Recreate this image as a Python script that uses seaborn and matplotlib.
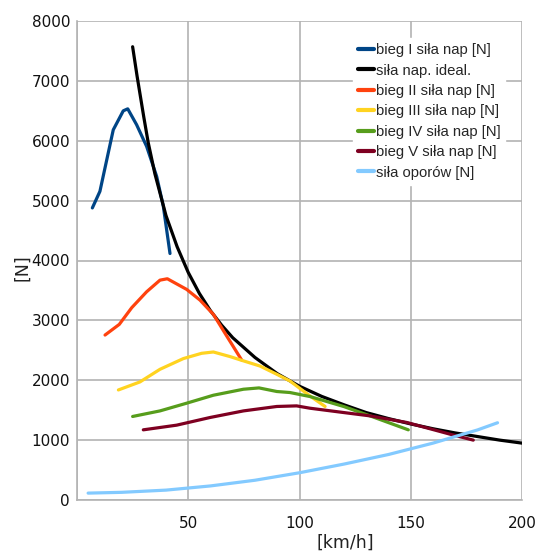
import matplotlib
matplotlib.use("Agg")
import matplotlib.pyplot as plt
import seaborn as sns
import pandas as pd

# Traction force vs. speed for each gear, ideal traction hyperbola and resistance
gear1_v = [6.9, 10.3, 16.3, 20.8, 22.8, 26.8, 31.3, 35.8, 38.8, 41.8]
gear1_f = [4878, 5155, 6183, 6500, 6533, 6267, 5905, 5405, 4905, 4117]

ideal_v = [25, 27, 30, 32, 35, 40, 45, 50, 55, 60, 65, 70, 80, 90, 100,
           110, 120, 130, 140, 150, 160, 170, 180, 190, 200]
ideal_f = [7570, 7080, 6400, 5970, 5450, 4750, 4230, 3800, 3450, 3160, 2920,
           2710, 2380, 2110, 1900, 1730, 1590, 1460, 1360, 1270, 1190, 1120,
           1060, 1000, 950]

gear2_v = [12.6, 19.0, 24.6, 31.3, 37.3, 40.6, 49.3, 55.3, 61.3, 67.3, 74.0]
gear2_f = [2755, 2933, 3212, 3478, 3672, 3695, 3517, 3338, 3100, 2738, 2338]

gear3_v = [18.6, 28.3, 37.3, 47.8, 56.0, 61.3, 68.8, 74.0, 82.2, 89.8, 95.7,
           104.7, 111.5]
gear3_f = [1838, 1972, 2183, 2362, 2450, 2472, 2395, 2333, 2238, 2100, 1988,
           1738, 1562]

gear4_v = [25.0, 37.3, 49.3, 61.3, 74.8, 81.8, 89.8, 95.7, 104.7, 120.0,
           131.7, 148.9]
gear4_f = [1395, 1488, 1617, 1750, 1850, 1872, 1812, 1795, 1728, 1560,
           1405, 1172]

gear5_v = [29.8, 44.8, 59.8, 74.8, 89.8, 98.7, 104.7, 120.0, 131.7, 148.2,
           167.6, 178.1]
gear5_f = [1172, 1250, 1378, 1488, 1562, 1572, 1533, 1460, 1405, 1295,
           1100, 1000]

resist_v = [5, 20, 40, 60, 80, 100, 120, 140, 160, 180, 189]
resist_f = [115, 128, 165, 235, 330, 455, 600, 760, 950, 1170, 1290]

series_labels = ["bieg I siła nap [N]", "siła nap. ideal.", "bieg II siła nap [N]",
                 "bieg III siła nap [N]", "bieg IV siła nap [N]",
                 "bieg V siła nap [N]", "siła oporów [N]"]
series_colors = ["#004586", "#000000", "#ff420e", "#ffd320", "#579d1c",
                 "#7e0021", "#83caff"]

x_ticks = [0, 50, 100, 150, 200]
x_tick_labels = ["", "50", "100", "150", "200"]
y_ticks = [0, 1000, 2000, 3000, 4000, 5000, 6000, 7000, 8000]
y_tick_labels = ["0", "1000", "2000", "3000", "4000", "5000", "6000", "7000", "8000"]

sns.set_theme(style="whitegrid")
plt.rcParams["font.family"] = ["DejaVu Sans"]

fig = plt.figure(figsize=(5.46, 5.53), dpi=100)
ax = fig.add_axes([77 / 546, 1 - 500 / 553, 445 / 546, 479 / 553])

pairs = [(gear1_v, gear1_f), (ideal_v, ideal_f), (gear2_v, gear2_f),
         (gear3_v, gear3_f), (gear4_v, gear4_f), (gear5_v, gear5_f),
         (resist_v, resist_f)]
for (v, f), lab, col in zip(pairs, series_labels, series_colors):
    df = pd.DataFrame({"v": v, "f": f})
    sns.lineplot(data=df, x="v", y="f", sort=False, estimator=None,
                 color=col, linewidth=2.3, label=lab, ax=ax)

ax.set_xlim(0, 200)
ax.set_ylim(0, 8000)
ax.set_xticks(x_ticks)
ax.set_xticklabels(x_tick_labels)
ax.set_yticks(y_ticks)
ax.set_yticklabels(y_tick_labels)

ax.grid(True, color="#b3b3b3", linewidth=1.2)
for side in ["top", "right"]:
    ax.spines[side].set_visible(False)
for side in ["left", "bottom"]:
    ax.spines[side].set_color("#b3b3b3")
    ax.spines[side].set_linewidth(1.2)

ax.tick_params(axis="both", which="major", direction="out", length=4,
               width=1.2, color="#b3b3b3", labelsize=11, labelcolor="#111111")
ax.tick_params(axis="y", pad=1)
ax.tick_params(axis="x", pad=7.5)

ax.set_xlabel("[km/h]", fontsize=12.5, color="#222222", va="center")
ax.set_ylabel("[N]", fontsize=12.5, color="#222222", va="center")
ax.xaxis.set_label_coords(0.602, -0.09)
ax.yaxis.set_label_coords(-0.124, 0.485)

leg = ax.legend(loc="upper left", bbox_to_anchor=(353 / 546, 1 - 38 / 553),
                bbox_transform=fig.transFigure, frameon=True, fancybox=False,
                facecolor="white", edgecolor="white", framealpha=1,
                prop={"family": "Liberation Sans", "size": 10.7},
                handlelength=1.05, handletextpad=0.12, labelspacing=0.43,
                borderpad=0.35, borderaxespad=0)
for line in leg.get_lines():
    line.set_linewidth(3)

fig.savefig("out.png", dpi=100)
